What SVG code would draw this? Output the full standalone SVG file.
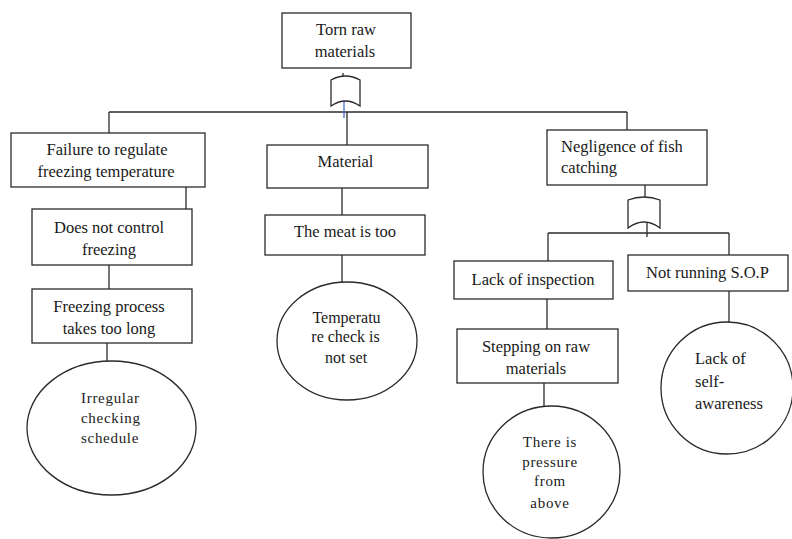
<svg xmlns="http://www.w3.org/2000/svg" width="792" height="539" viewBox="0 0 792 539">
<style>
.box{fill:#fff;stroke:#2a2a2a;stroke-width:1.3}
.ell{fill:#fff;stroke:#2a2a2a;stroke-width:1.3}
.ln{stroke:#2a2a2a;stroke-width:1.3;fill:none}
.gate{fill:#fff;stroke:#2a2a2a;stroke-width:1.3}
text{font-family:'Liberation Serif','Times New Roman',Tinos,'DejaVu Serif',serif;font-size:16.5px;fill:#1a1a1a}
.c{text-anchor:middle}
.w{font-size:15px;letter-spacing:0.7px}
</style>
<rect width="792" height="539" fill="#fff"/>
<g id="connectors">
<line class="ln" x1="109" y1="112" x2="627" y2="112"/>
<line class="ln" x1="109" y1="112" x2="109" y2="133"/>
<line class="ln" x1="627" y1="112" x2="627" y2="130"/>
<line class="ln" x1="343" y1="73" x2="343" y2="76"/>
<line class="ln" x1="347" y1="112" x2="347" y2="145"/>
<line x1="344" y1="101" x2="344" y2="118" stroke="#4472c4" stroke-width="1.3"/>
<line class="ln" x1="186" y1="187" x2="186" y2="209"/>
<line class="ln" x1="109" y1="265" x2="109" y2="289"/>
<line class="ln" x1="107" y1="343" x2="107" y2="361"/>
<line class="ln" x1="342" y1="188" x2="342" y2="215"/>
<line class="ln" x1="342" y1="255" x2="342" y2="282"/>
<line class="ln" x1="645" y1="185" x2="645" y2="197"/>
<line class="ln" x1="647" y1="222" x2="647" y2="237"/>
<line class="ln" x1="548" y1="233" x2="729" y2="233"/>
<line class="ln" x1="548" y1="233" x2="548" y2="261"/>
<line class="ln" x1="729" y1="233" x2="729" y2="255"/>
<line class="ln" x1="547" y1="299" x2="547" y2="329"/>
<line class="ln" x1="544" y1="383" x2="544" y2="406"/>
<line class="ln" x1="729" y1="291" x2="729" y2="322"/>
</g>
<g id="gate-top">
<path class="gate" d="M331,80 Q345.5,72 360,80 L360,106 Q345.5,96 331,106 Z"/>
</g>
<g id="gate-right">
<path class="gate" d="M628,200 Q644,194 660,200 L660,228 Q644,216 628,228 Z"/>
</g>
<g id="n-torn">
<rect class="box" x="282" y="13" width="129" height="55"/>
<text class="c" x="346" y="35">Torn raw</text>
<text class="c" x="345" y="57">materials</text>
</g>
<g id="n-failure">
<rect class="box" x="11" y="133" width="194" height="54"/>
<text class="c" x="107" y="155">Failure to regulate</text>
<text class="c" x="106" y="177">freezing temperature</text>
</g>
<g id="n-control">
<rect class="box" x="32" y="209" width="160" height="56"/>
<text class="c" x="109" y="233">Does not control</text>
<text class="c" x="109" y="255">freezing</text>
</g>
<g id="n-process">
<rect class="box" x="32" y="289" width="160" height="54"/>
<text class="c" x="109" y="312">Freezing process</text>
<text class="c" x="109" y="334">takes too long</text>
</g>
<g id="n-irregular">
<ellipse class="ell" cx="111.5" cy="428" rx="84.5" ry="67"/>
<text class="w" x="81" y="403">Irregular</text>
<text class="w" x="81" y="423">checking</text>
<text class="w" x="81" y="443">schedule</text>
</g>
<g id="n-material">
<rect class="box" x="267" y="145" width="161" height="43"/>
<text class="c" x="345.5" y="167">Material</text>
</g>
<g id="n-meat">
<rect class="box" x="265" y="215" width="160" height="40"/>
<text class="c" x="345" y="237">The meat is too</text>
</g>
<g id="n-temp">
<ellipse class="ell" cx="347" cy="341" rx="70" ry="59"/>
<text class="c" x="346.5" y="323" style="font-size:16px">Temperatu</text>
<text class="c" x="345.5" y="342" style="font-size:16px">re check is</text>
<text class="c" x="346" y="363" style="font-size:16px">not set</text>
</g>
<g id="n-negligence">
<rect class="box" x="547" y="130" width="160" height="55"/>
<text x="561" y="152">Negligence of fish</text>
<text x="561" y="173">catching</text>
</g>
<g id="n-inspection">
<rect class="box" x="454" y="261" width="159" height="38"/>
<text class="c" x="533" y="285">Lack of inspection</text>
</g>
<g id="n-sop">
<rect class="box" x="628" y="255" width="160" height="36"/>
<text class="c" x="707.5" y="278">Not running S.O.P</text>
</g>
<g id="n-stepping">
<rect class="box" x="457" y="329" width="161" height="54"/>
<text class="c" x="536" y="352">Stepping on raw</text>
<text class="c" x="536" y="374">materials</text>
</g>
<g id="n-pressure">
<ellipse class="ell" cx="551.5" cy="472" rx="68.5" ry="66"/>
<text class="c w" x="550" y="447">There is</text>
<text class="c w" x="550" y="467">pressure</text>
<text class="c w" x="550" y="486">from</text>
<text class="c w" x="550" y="508">above</text>
</g>
<g id="n-self">
<ellipse class="ell" cx="727" cy="388" rx="66" ry="66"/>
<text x="695" y="364">Lack of</text>
<text x="695" y="387">self-</text>
<text x="695" y="409">awareness</text>
</g>
</svg>
